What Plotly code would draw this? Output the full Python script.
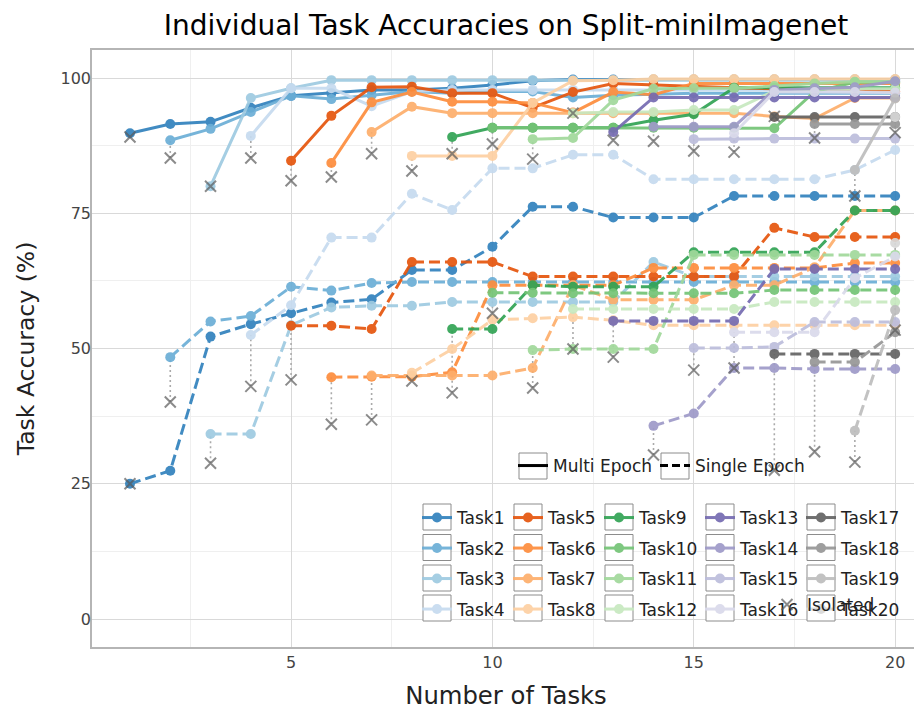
import plotly.graph_objects as go

# ---------------- data ----------------
task_names = [f"Task{i}" for i in range(1, 21)]
num_tasks = list(range(1, 21))
colors = ["#3182bd", "#6baed6", "#9ecae1", "#c6dbef",
          "#e6550d", "#fd8d3c", "#fdae6b", "#fdd0a2",
          "#31a354", "#74c476", "#a1d99b", "#c7e9c0",
          "#756bb1", "#9e9ac8", "#bcbddc", "#dadaeb",
          "#636363", "#969696", "#bdbdbd", "#d9d9d9"]

# accuracy of task i after training on 1..20 tasks (starting at x = i)
multi_epoch = [
    [89.8, 91.5, 91.9, 94.5, 96.7, 97.2, 97.8, 97.8, 98.1, 98.7, 99.5, 99.7, 99.7, 99.7, 99.7, 99.7, 99.7, 99.7, 99.7, 99.7],
    [88.5, 90.6, 93.7, 96.7, 96.1, 96.8, 97.5, 97.2, 97.5, 97.5, 96.4, 96.8, 97.0, 97.2, 97.2, 97.2, 97.2, 97.2, 97.2],
    [80.0, 96.3, 98.1, 99.6, 99.6, 99.6, 99.6, 99.6, 99.6, 99.6, 99.6, 99.6, 99.6, 99.6, 99.6, 99.6, 99.6, 99.6],
    [89.3, 98.1, 98.1, 94.8, 97.5, 97.8, 97.8, 97.8, 97.8, 97.8, 97.8, 97.8, 97.8, 97.8, 97.8, 97.8, 97.8],
    [84.7, 93.0, 98.3, 98.4, 97.2, 97.2, 94.5, 97.4, 99.0, 98.7, 98.5, 98.2, 98.0, 98.0, 98.0, 97.5],
    [84.3, 95.5, 97.4, 95.6, 95.6, 95.4, 93.6, 97.4, 96.9, 99.0, 99.0, 99.0, 99.0, 99.0, 99.0],
    [90.0, 94.7, 93.5, 93.5, 93.5, 93.5, 93.5, 93.5, 93.5, 93.5, 92.9, 92.5, 96.3, 96.3],
    [85.6, 85.6, 85.6, 95.4, 99.5, 99.6, 99.8, 99.8, 99.8, 99.8, 99.8, 99.8, 99.8],
    [89.1, 90.8, 90.8, 90.8, 90.8, 92.2, 93.3, 98.2, 98.2, 98.2, 98.2, 98.2],
    [90.8, 90.8, 90.8, 90.8, 90.8, 90.8, 90.8, 90.7, 97.5, 99.2, 99.2],
    [88.7, 88.9, 95.9, 98.0, 98.1, 98.1, 98.5, 99.0, 99.3, 99.3],
    [93.5, 93.7, 93.7, 94.1, 94.1, 97.6, 98.0, 98.0, 98.0],
    [90.0, 96.4, 96.4, 96.4, 96.4, 96.4, 96.4, 96.4],
    [91.0, 91.0, 91.0, 97.8, 98.1, 98.3, 99.4],
    [88.7, 88.8, 88.8, 88.8, 88.8, 88.8],
    [89.8, 97.4, 97.4, 97.4, 97.3],
    [92.8, 92.8, 92.8, 92.8],
    [91.5, 91.5, 91.5],
    [83.0, 96.2],
    [92.8],
]

single_epoch = [
    [25.0, 27.4, 52.2, 54.5, 56.5, 58.5, 59.1, 64.5, 64.5, 68.8, 76.2, 76.2, 74.2, 74.2, 74.2, 78.2, 78.2, 78.2, 78.2, 78.2],
    [48.4, 55.0, 56.0, 61.4, 60.7, 62.1, 62.3, 62.3, 62.3, 62.3, 62.3, 62.3, 62.3, 62.3, 62.3, 62.3, 62.3, 62.3, 62.3],
    [34.2, 34.2, 54.3, 57.6, 57.9, 57.9, 58.6, 58.6, 58.6, 58.6, 58.6, 66.0, 63.3, 63.3, 63.3, 63.3, 63.3, 63.3],
    [52.5, 58.0, 70.5, 70.5, 78.6, 75.6, 83.3, 83.3, 85.8, 85.8, 81.3, 81.3, 81.3, 81.3, 81.3, 83.0, 86.7],
    [54.2, 54.2, 53.6, 66.0, 66.0, 66.0, 63.3, 63.3, 63.3, 63.3, 63.3, 63.3, 72.3, 70.6, 70.6, 70.6],
    [44.7, 44.8, 44.8, 45.6, 61.7, 61.7, 61.7, 61.7, 64.9, 64.9, 64.9, 64.9, 64.9, 65.8, 65.8],
    [45.0, 45.0, 45.0, 45.0, 46.4, 61.7, 59.0, 59.0, 59.0, 61.7, 61.7, 65.0, 75.5, 75.5],
    [45.5, 49.9, 55.3, 55.6, 55.8, 55.2, 54.3, 54.3, 54.3, 54.3, 54.3, 54.3, 54.3],
    [53.6, 53.6, 61.7, 61.4, 61.4, 61.4, 67.8, 67.8, 67.8, 67.8, 75.5, 75.5],
    [60.3, 60.3, 60.2, 60.2, 60.2, 60.2, 60.2, 60.8, 60.8, 60.8, 60.8],
    [49.7, 49.9, 49.9, 49.9, 67.3, 67.3, 67.3, 67.3, 67.3, 67.3],
    [57.3, 57.3, 57.3, 57.3, 57.3, 58.6, 58.6, 58.6, 58.6],
    [55.1, 55.1, 55.1, 55.1, 64.7, 64.7, 64.7, 64.7],
    [35.7, 38.0, 46.4, 46.4, 46.2, 46.2, 46.2],
    [50.1, 50.1, 50.3, 54.9, 54.9, 54.9],
    [53.0, 53.0, 53.0, 63.0, 67.0],
    [49.0, 49.0, 49.0, 49.0],
    [47.5, 47.5, 53.0],
    [34.8, 57.1],
    [69.5],
]

isolated_multi = [89.1, 85.2, 80.0, 85.2, 81.0, 81.7, 86.0, 82.8, 86.0, 87.8,
                  85.0, 93.5, 88.5, 88.3, 86.5, 86.3, 92.9, 88.9, 78.2, 89.9]
isolated_single = [25.0, 40.1, 28.8, 43.0, 44.2, 36.0, 36.8, 44.0, 41.8, 56.5,
                   42.7, 49.9, 48.4, 30.3, 46.0, 46.4, 27.5, 30.9, 29.0, 53.4]

title_text = "Individual Task Accuracies on Split-miniImagenet"
x_label = "Number of Tasks"
y_label = "Task Accuracy (%)"
x_ticks = [5, 10, 15, 20]
y_ticks = [0, 25, 50, 75, 100]

# ---------------- layout helpers (screen pixel coordinates) ----------------
OFF = 8                      # page body margin
FIG_W, FIG_H = 922 - OFF, 711 - OFF
PL, PR, PT, PB = 92, 920, 50, 647  # plot area box on screen


def px_x(p):
    return (p - PL) / (PR - PL)


def px_y(p):
    return (PB - p) / (PB - PT)


FONT = "DejaVu Sans"
fig = go.Figure()

# dotted connectors from isolated result to first continual point
cx, cy = [], []
for i, t in enumerate(num_tasks):
    cx += [t, t, None, t, t, None]
    cy += [isolated_multi[i], multi_epoch[i][0], None,
           isolated_single[i], single_epoch[i][0], None]
fig.add_trace(go.Scatter(x=cx, y=cy, mode="lines", showlegend=False,
                         line=dict(color="#aaaaaa", width=1.6, dash="2px,3px"),
                         hoverinfo="skip"))

for i, name in enumerate(task_names):
    xs = num_tasks[i:]
    col = i // 4
    fig.add_trace(go.Scatter(
        x=xs, y=single_epoch[i], mode="lines+markers", name=name,
        showlegend=False, legendgroup=name, opacity=0.92,
        line=dict(color=colors[i], width=3, dash="11px,5px"),
        marker=dict(color=colors[i], size=10)))
    fig.add_trace(go.Scatter(
        x=xs, y=multi_epoch[i], mode="lines+markers", name=name,
        showlegend=True, legendgroup=name, legend=f"legend{col + 4}",
        opacity=0.92,
        line=dict(color=colors[i], width=3),
        marker=dict(color=colors[i], size=10)))

# isolated markers
fig.add_trace(go.Scatter(
    x=num_tasks + num_tasks, y=isolated_multi + isolated_single,
    mode="markers", showlegend=False,
    marker=dict(symbol="x-thin", size=11, color="rgba(90,90,90,0.7)",
                line=dict(width=2, color="rgba(90,90,90,0.7)"))))

# style legend entries
fig.add_trace(go.Scatter(x=[None], y=[None], mode="lines", name="Multi Epoch",
                         legend="legend", line=dict(color="black", width=3)))
fig.add_trace(go.Scatter(x=[None], y=[None], mode="lines", name="Single Epoch",
                         legend="legend2", line=dict(color="black", width=3, dash="8px,4px")))
fig.add_trace(go.Scatter(x=[None], y=[None], mode="markers", name="Isolated",
                         legend="legend3",
                         marker=dict(symbol="x-thin", size=11, color="rgba(90,90,90,0.7)",
                                     line=dict(width=2, color="rgba(90,90,90,0.7)"))))

leg_font = dict(family=FONT, size=17, color="#222222")


def legend_at(cx_px, top_px, gap=0):
    return dict(x=px_x(cx_px - 20), y=px_y(top_px), xanchor="left", yanchor="top",
                bgcolor="rgba(0,0,0,0)", borderwidth=0, font=leg_font,
                tracegroupgap=gap, orientation="v")


task_cols = [437, 528, 619, 720, 821]
row_centers = [517, 547.5, 578, 608]
legends = {}
legends["legend"] = legend_at(533, 448)
legends["legend2"] = legend_at(675, 448)
legends["legend3"] = legend_at(787, 587)
for c, cxp in enumerate(task_cols):
    legends[f"legend{c + 4}"] = legend_at(cxp, 500, gap=5.4)

# boxes around legend handles
shapes = []
for cxp in task_cols:
    for ry in row_centers:
        shapes.append(dict(type="rect", xref="paper", yref="paper",
                           x0=px_x(cxp - 14), x1=px_x(cxp + 14),
                           y0=px_y(ry + 13), y1=px_y(ry - 13),
                           line=dict(color="#8c8c8c", width=1),
                           fillcolor="white", layer="above"))
for cxp in [533, 675]:
    shapes.append(dict(type="rect", xref="paper", yref="paper",
                       x0=px_x(cxp - 14), x1=px_x(cxp + 14),
                       y0=px_y(466 + 13), y1=px_y(466 - 13),
                       line=dict(color="#8c8c8c", width=1),
                       fillcolor="white", layer="above"))

fig.update_layout(
    width=FIG_W, height=FIG_H,
    margin=dict(l=PL - OFF, r=FIG_W - (PR - OFF), t=PT - OFF, b=FIG_H - (PB - OFF),
                pad=0, autoexpand=False),
    paper_bgcolor="white", plot_bgcolor="white",
    font=dict(family=FONT, size=16, color="#222222"),
    title=dict(text=title_text, x=0.5, xref="paper", xanchor="center",
               y=1 - (25 - OFF) / FIG_H, yref="container", yanchor="middle", automargin=False,
               font=dict(family=FONT, size=28, color="black")),
    shapes=shapes,
    **legends,
)

x0 = 1 + (PL - 130) / 40.27
x1 = 1 + (PR - 130) / 40.27
y0 = (619 - PB) / 5.41
y1 = (619 - PT) / 5.41

fig.update_xaxes(range=[x0, x1], tickvals=x_ticks, showgrid=True, automargin=False,
                 gridcolor="#d9d9d9", gridwidth=1.3, zeroline=False,
                 showline=True, linecolor="#b5b5b5", linewidth=1.5, mirror=True,
                 ticks="", tickfont=dict(family=FONT, size=16, color="#444444"),
                 minor=dict(dtick=2.5, tick0=0, showgrid=True, gridcolor="#efefef", gridwidth=1),
                 title=dict(text=x_label, font=dict(family=FONT, size=24.3, color="#222222"),
                            standoff=16))
fig.update_yaxes(range=[y0, y1], tickvals=y_ticks, showgrid=True, automargin=False,
                 gridcolor="#d9d9d9", gridwidth=1.3, zeroline=False,
                 showline=True, linecolor="#b5b5b5", linewidth=1.5, mirror=True,
                 ticks="", ticklabelstandoff=-4,
                 tickfont=dict(family=FONT, size=16, color="#444444"),
                 minor=dict(dtick=12.5, tick0=0, showgrid=True, gridcolor="#efefef", gridwidth=1),
                 title=dict(text=y_label, font=dict(family=FONT, size=23.5, color="#222222"),
                            standoff=19))

fig.write_html("out.html")
